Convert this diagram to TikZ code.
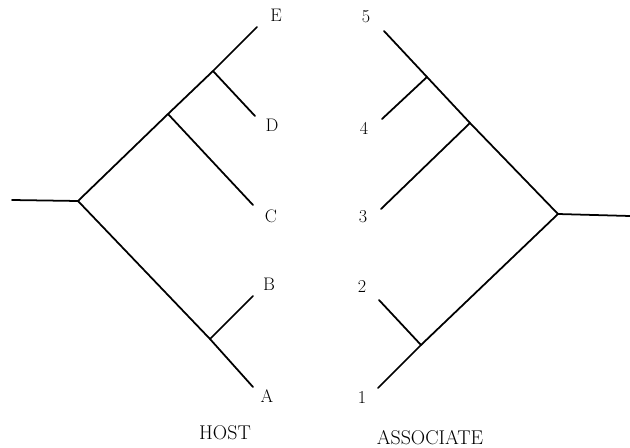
\documentclass[tikz,border=0pt]{standalone}
\usepackage{fontspec}
\usepackage{tikz}
\tikzset{
  branch/.style={line width=1.5pt,line cap=round,line join=round},
  taxon/.style={font=\fontsize{15.5}{18}\selectfont},
  treename/.style={inner sep=0.5pt,font=\fontsize{17}{20}\selectfont}
}

\begin{document}
\begin{tikzpicture}[x=0.03cm,y=-0.03cm]
  \useasboundingbox (0,0) rectangle (630,448);
  % host tree
  \coordinate (hstem) at (12,200);
  \coordinate (hroot) at (78,201);
  \coordinate (hcde) at (168,114);
  \coordinate (hde) at (213,71);
  \coordinate (hab) at (210,339);
  \coordinate (he) at (257,27);
  \coordinate (hd) at (255,116);
  \coordinate (hc) at (253,205);
  \coordinate (hb) at (253,296);
  \coordinate (ha) at (253,387);
  \draw[branch] (hstem) -- (hroot) -- (hcde) -- (hde) -- (he);
  \draw[branch] (hroot) -- (hab) -- (ha);
  \draw[branch] (hde) -- (hd);
  \draw[branch] (hcde) -- (hc);
  \draw[branch] (hab) -- (hb);
  \node[taxon] (labE) at (276,15) {E};
  \node[taxon] (labD) at (272,125) {D};
  \node[taxon] (labC) at (271,216) {C};
  \node[taxon] (labB) at (269,284) {B};
  \node[taxon] (labA) at (267,396) {A};
  \node[treename] (host) at (225,433) {HOST};
  % associate tree
  \coordinate (astem) at (630,216);
  \coordinate (aroot) at (558,214);
  \coordinate (a345) at (470,123);
  \coordinate (a45) at (427,77);
  \coordinate (a12) at (421,345);
  \coordinate (a5) at (384,31);
  \coordinate (a4) at (382,119);
  \coordinate (a3) at (381,209);
  \coordinate (a2) at (379,300);
  \coordinate (a1) at (378,388);
  \draw[branch] (astem) -- (aroot) -- (a345) -- (a45) -- (a5);
  \draw[branch] (aroot) -- (a12) -- (a1);
  \draw[branch] (a45) -- (a4);
  \draw[branch] (a345) -- (a3);
  \draw[branch] (a12) -- (a2);
  \node[taxon] (lab5) at (366,17) {5};
  \node[taxon] (lab4) at (364,128) {4};
  \node[taxon] (lab3) at (363,217) {3};
  \node[taxon] (lab2) at (362,286) {2};
  \node[taxon] (lab1) at (362,397) {1};
  \node[treename] (assoc) at (430,438) {ASSOCIATE};
\end{tikzpicture}
\end{document}
